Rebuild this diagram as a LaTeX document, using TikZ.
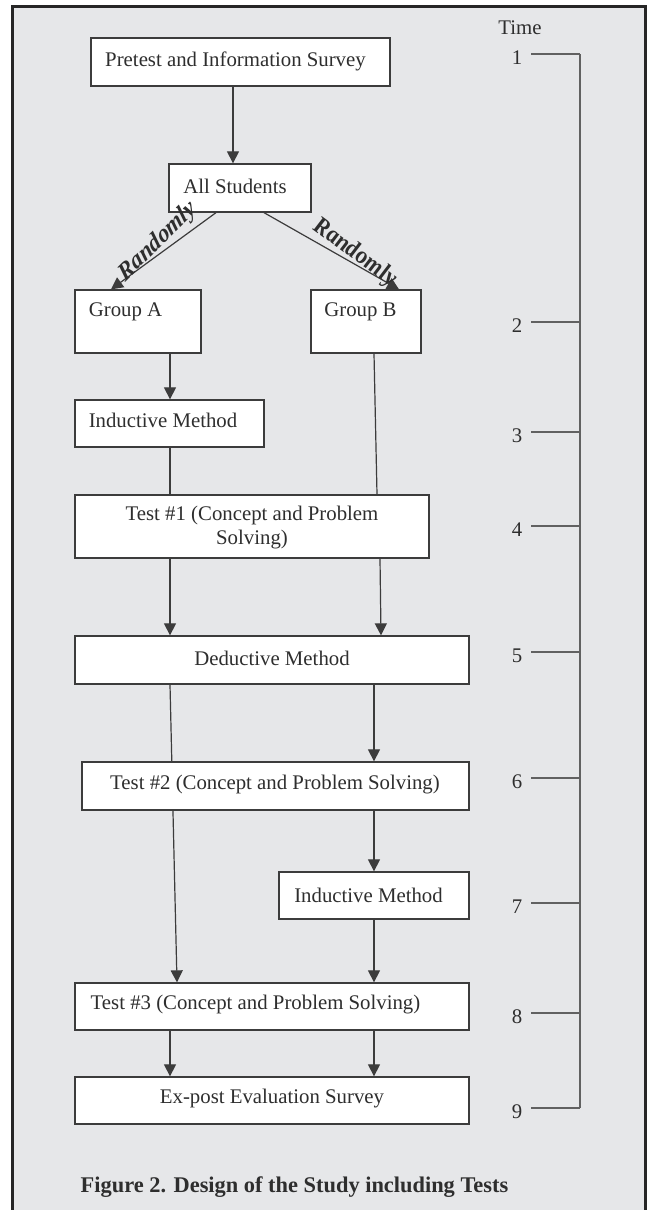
\documentclass[tikz,border=0pt]{standalone}
\usepackage{fontspec}
\setmainfont{Liberation Serif}
\usetikzlibrary{arrows.meta,fit}
\definecolor{bgc}{HTML}{E6E7E9}
\definecolor{ink}{HTML}{2E2E2E}
\definecolor{edgec}{HTML}{3C3C3C}
\pgfdeclarelayer{bg}
\pgfdeclarelayer{edges}
\pgfsetlayers{bg,edges,main}
\begin{document}
\begin{tikzpicture}[x=0.5pt,y=-0.5pt,
  box/.style={draw=edgec, fill=white, line width=0.65pt, inner sep=0pt},
  txt/.style={font=\fontsize{10.4}{12}\selectfont, text=ink, inner sep=0pt},
  arr/.style={draw=edgec, line width=0.6pt, -{Triangle[length=6pt,width=6pt]}},
  ln/.style={draw=edgec, line width=0.6pt},
  tickline/.style={draw=black!62, line width=0.65pt},
  rnd/.style={font=\fontsize{13}{13}\selectfont\bfseries\itshape, text=ink, inner sep=0pt, xscale=0.85}
]
\useasboundingbox (0,0) rectangle (647,1210);
\begin{pgfonlayer}{bg}
  \fill[white] (0,0) rectangle (647,1210);
  \fill[bgc] (12,6) rectangle (645,1230);
  \draw[line width=1.5pt, black!85] (12,1230) -- (12,6) -- (645,6) -- (645,1230);
\end{pgfonlayer}

% boxes
\node[box, fit={(91,38) (390,86)}] (pre) {};
\node[box, fit={(169,164) (311,212)}] (all) {};
\node[box, fit={(75,290) (201,353)}] (ga) {};
\node[box, fit={(311,290) (421,353)}] (gb) {};
\node[box, fit={(75,400) (264,447)}] (ia) {};
\node[box, fit={(75,495) (429,558)}] (t1) {};
\node[box, fit={(75,636) (469,684)}] (de) {};
\node[box, fit={(82,762) (469,810)}] (t2) {};
\node[box, fit={(279,872) (469,919)}] (ib) {};
\node[box, fit={(75,983) (469,1030)}] (t3) {};
\node[box, fit={(75,1077) (469,1124)}] (ex) {};

% texts
\node[txt] (preT) at (235.5,61) {Pretest and Information Survey};
\node[txt] (allT) at (235,186) {All Students};
\node[txt] (gaT) at (125.5,312) {Group A};
\node[txt] (gbT) at (360.5,312) {Group B};
\node[txt] (iaT) at (163,420) {Inductive Method};
\node[txt, align=center] (t1T) at (252,528) {Test \#1 (Concept and Problem\\Solving)};
\node[txt] (deT) at (272,658) {Deductive Method};
\node[txt] (t2T) at (275,785) {Test \#2 (Concept and Problem Solving)};
\node[txt] (ibT) at (368.5,895) {Inductive Method};
\node[txt] (t3T) at (255.5,1005) {Test \#3 (Concept and Problem Solving)};
\node[txt] (exT) at (272,1099) {Ex-post Evaluation Survey};
\node[txt, font=\fontsize{11.2}{13}\selectfont\bfseries] (cap) at (294.5,1187) {Figure 2. Design of the Study including Tests};

% Randomly labels
\node[rnd, rotate=40] (r1) at (158,242) {Randomly};
\node[rnd, rotate=-32] (r2) at (355,253) {Randomly};

% connectors
\begin{pgfonlayer}{edges}
\draw[arr] (pre.south -| 233,0) -- (all.north -| 233,0);
\draw[arr] (all.south -| 216,0) -- (ga.north -| 111,0);
\draw[arr] (all.south -| 264,0) -- (gb.north -| 399,0);
\draw[arr] (ga.south -| 170,0) -- (ia.north -| 170,0);
\draw[ln] (ia.south -| 170,0) -- (t1.north -| 170,0);
\draw[ln] (gb.south -| 374,0) -- (t1.north -| 377,0);
\draw[arr] (t1.south -| 170,0) -- (de.north -| 170,0);
\draw[arr] (t1.south -| 380,0) -- (de.north -| 381,0);
\draw[arr] (de.south -| 170,0) -- (t3.north -| 177,0);
\draw[arr] (de.south -| 374,0) -- (t2.north -| 374,0);
\draw[arr] (t2.south -| 374,0) -- (ib.north -| 374,0);
\draw[arr] (ib.south -| 374,0) -- (t3.north -| 374,0);
\draw[arr] (t3.south -| 170,0) -- (ex.north -| 170,0);
\draw[arr] (t3.south -| 374,0) -- (ex.north -| 374,0);
\end{pgfonlayer}

% time scale
\node[txt] (time) at (520,28) {Time};
\foreach \n/\y in {1/54,2/322,3/432,4/526,5/652,6/778,7/903,8/1013,9/1108}{
  \node[txt] (num\n) at (517,\y+4) {\n};
  \coordinate (ts\n) at (531,\y);
  \coordinate (te\n) at (580,\y);
  \draw[tickline] (ts\n) -- (te\n);
}
\draw[tickline] (te1) -- (te9);
\end{tikzpicture}
\end{document}
